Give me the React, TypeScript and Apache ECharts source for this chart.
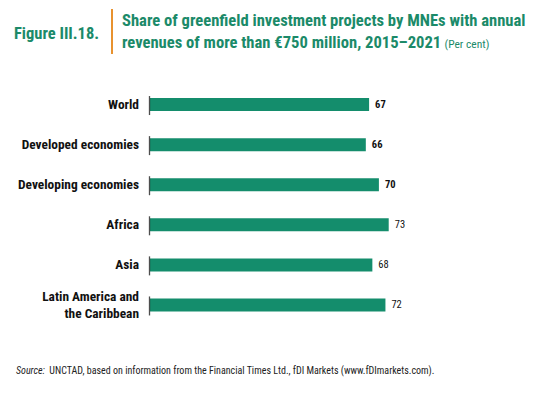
import React, { useEffect, useRef } from "react";
import * as echarts from "echarts";

const categories = [
  "World",
  "Developed economies",
  "Developing economies",
  "Africa",
  "Asia",
  "Latin America and\nthe Caribbean",
];
const values = [67, 66, 70, 73, 68, 72];
const boldValue = [true, true, true, false, false, false];

const FONT = "'Roboto Condensed', 'Liberation Sans Narrow', 'Arial Narrow', Roboto, sans-serif";
const GREEN = "#148d6c";
const TITLE_GREEN = "#1b8a69";
const ORANGE = "#e8922f";

export default function App() {
  const ref = useRef<HTMLDivElement>(null);
  useEffect(() => {
    if (!ref.current) return;
    const chart = echarts.init(ref.current, undefined, { renderer: "svg" });
    chart.setOption({
      animation: false,
      backgroundColor: "#ffffff",
      grid: { left: 150, right: 78, top: 84.5, bottom: 69, outerBoundsMode: "none" },
      xAxis: {
        type: "value",
        min: 0,
        max: 100,
        show: false,
      },
      yAxis: {
        type: "category",
        data: categories,
        inverse: true,
        axisLine: { show: false },
        axisTick: { show: false },
        axisLabel: {
          margin: 11,
          fontFamily: FONT,
          fontWeight: "bold",
          fontSize: 13.4,
          color: "#111111",
          lineHeight: 17,
          align: "right",
        },
      },
      series: [
        {
          type: "bar",
          data: values.map((v, i) => ({
            value: v,
            label: {
              fontWeight: boldValue[i] ? "bold" : "normal",
            },
          })),
          barWidth: 13,
          itemStyle: { color: GREEN },
          label: {
            show: true,
            position: "right",
            distance: 6,
            fontFamily: FONT,
            fontSize: 10.5,
            color: "#111111",
          },
          z: 2,
        },
        {
          type: "scatter",
          data: categories.map((c) => [0, c]),
          symbol: "rect",
          symbolSize: [1.3, 19],
          symbolOffset: [-0.5, 1],
          itemStyle: { color: "#222222" },
          silent: true,
          z: 3,
        },
      ],
      graphic: [
        {
          type: "text",
          x: 14,
          y: 24.5,
          style: {
            text: "Figure III.18.",
            fontFamily: FONT,
            fontWeight: "bold",
            fontSize: 16.5,
            fill: TITLE_GREEN,
            verticalAlign: "top",
          },
        },
        {
          type: "rect",
          shape: { x: 111, y: 9, width: 2, height: 45 },
          style: { fill: ORANGE },
        },
        {
          type: "text",
          x: 122,
          y: 12,
          style: {
            text: "Share of greenfield investment projects by MNEs with annual",
            fontFamily: FONT,
            fontWeight: "bold",
            fontSize: 16.6,
            fill: TITLE_GREEN,
            verticalAlign: "top",
          },
        },
        {
          type: "text",
          x: 122,
          y: 34,
          style: {
            rich: {
              b: {
                fontFamily: FONT,
                fontWeight: "bold",
                fontSize: 16.6,
                fill: TITLE_GREEN,
              },
              s: {
                fontFamily: FONT,
                fontSize: 11.5,
                fill: TITLE_GREEN,
                padding: [3, 0, 0, 0],
              },
            },
            text: "{b|revenues of more than €750 million, 2015–2021} {s|(Per cent)}",
            verticalAlign: "top",
          },
        },
        {
          type: "text",
          x: 16,
          y: 365,
          style: {
            rich: {
              i: { fontFamily: FONT, fontStyle: "italic", fontSize: 10, fill: "#222222" },
              r: { fontFamily: FONT, fontSize: 10, fill: "#222222" },
            },
            text: "{i|Source:}{r|  UNCTAD, based on information from the Financial Times Ltd., fDI Markets (www.fDImarkets.com).}",
            verticalAlign: "top",
          },
        },
      ],
    });
    return () => chart.dispose();
  }, []);
  return <div ref={ref} style={{ width: 555, height: 394, position: "absolute", left: 0, top: 0 }} />;
}
